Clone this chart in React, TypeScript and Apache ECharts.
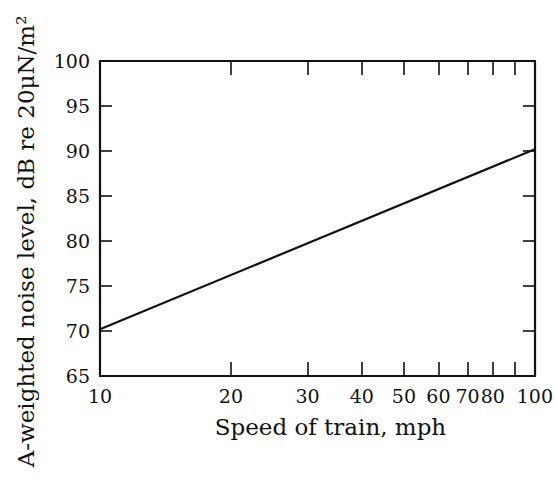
import React, { useEffect, useRef } from "react";
import * as echarts from "echarts";

const speeds = [10, 100];
const noiseLevels = [70.2, 90.2];
const xTickValues = [10, 20, 30, 40, 50, 60, 70, 80, 90, 100];
const xLabelValues = [10, 20, 30, 40, 50, 60, 70, 80, 100];
const xTitle = "Speed of train, mph";
const yTitle = "A-weighted noise level, dB re 20μN/m²";

const FONT = "DejaVu Serif";
const INK = "#111111";

export default function App() {
  const ref = useRef<HTMLDivElement>(null);
  useEffect(() => {
    if (!ref.current) return;
    const chart = echarts.init(ref.current, undefined, { renderer: "svg" });
    const axisLine = { show: true, lineStyle: { color: INK, width: 2.2 } };
    const tickStyle = { color: INK, width: 1.6 };
    chart.setOption({
      animation: false,
      backgroundColor: "#ffffff",
      grid: { left: 100, right: 14, top: 61, bottom: 107, containLabel: false },
      xAxis: [
        {
          type: "log",
          logBase: 10,
          min: 10,
          max: 100,
          position: "bottom",
          name: xTitle,
          nameLocation: "middle",
          nameGap: 39,
          nameTextStyle: { fontFamily: FONT, fontSize: 23, color: INK, padding: [0, 0, 0, 26] },
          axisLine,
          axisTick: { show: true, inside: true, length: 14, lineStyle: tickStyle, customValues: xTickValues },
          axisLabel: {
            show: true,
            fontFamily: FONT,
            fontSize: 19,
            color: INK,
            margin: 10,
            customValues: xLabelValues,
            formatter: (v: number) => String(Math.round(v)),
          },
          splitLine: { show: false },
          minorTick: { show: false },
        },
        {
          type: "log",
          logBase: 10,
          min: 10,
          max: 100,
          position: "top",
          axisLine,
          axisTick: { show: true, inside: true, length: 14, lineStyle: tickStyle, customValues: xTickValues },
          axisLabel: { show: false },
          splitLine: { show: false },
        },
      ],
      yAxis: [
        {
          type: "value",
          min: 65,
          max: 100,
          interval: 5,
          position: "left",
          name: yTitle,
          nameLocation: "middle",
          nameGap: 63,
          nameTextStyle: { fontFamily: FONT, fontSize: 23, color: INK, padding: [0, 46, 0, 0] },
          axisLine,
          axisTick: { show: true, inside: true, length: 12, lineStyle: tickStyle },
          axisLabel: { show: true, fontFamily: FONT, fontSize: 19, color: INK, margin: 10 },
          splitLine: { show: false },
        },
        {
          type: "value",
          min: 65,
          max: 100,
          interval: 5,
          position: "right",
          axisLine,
          axisTick: { show: true, inside: true, length: 12, lineStyle: tickStyle },
          axisLabel: { show: false },
          splitLine: { show: false },
        },
      ],
      series: [
        {
          type: "line",
          xAxisIndex: 0,
          yAxisIndex: 0,
          data: speeds.map((s, i) => [s, noiseLevels[i]]),
          showSymbol: false,
          lineStyle: { color: INK, width: 2.2 },
        },
      ],
    });
    return () => chart.dispose();
  }, []);
  return <div ref={ref} style={{ width: 556, height: 483, position: "absolute", left: 0, top: 0 }} />;
}
